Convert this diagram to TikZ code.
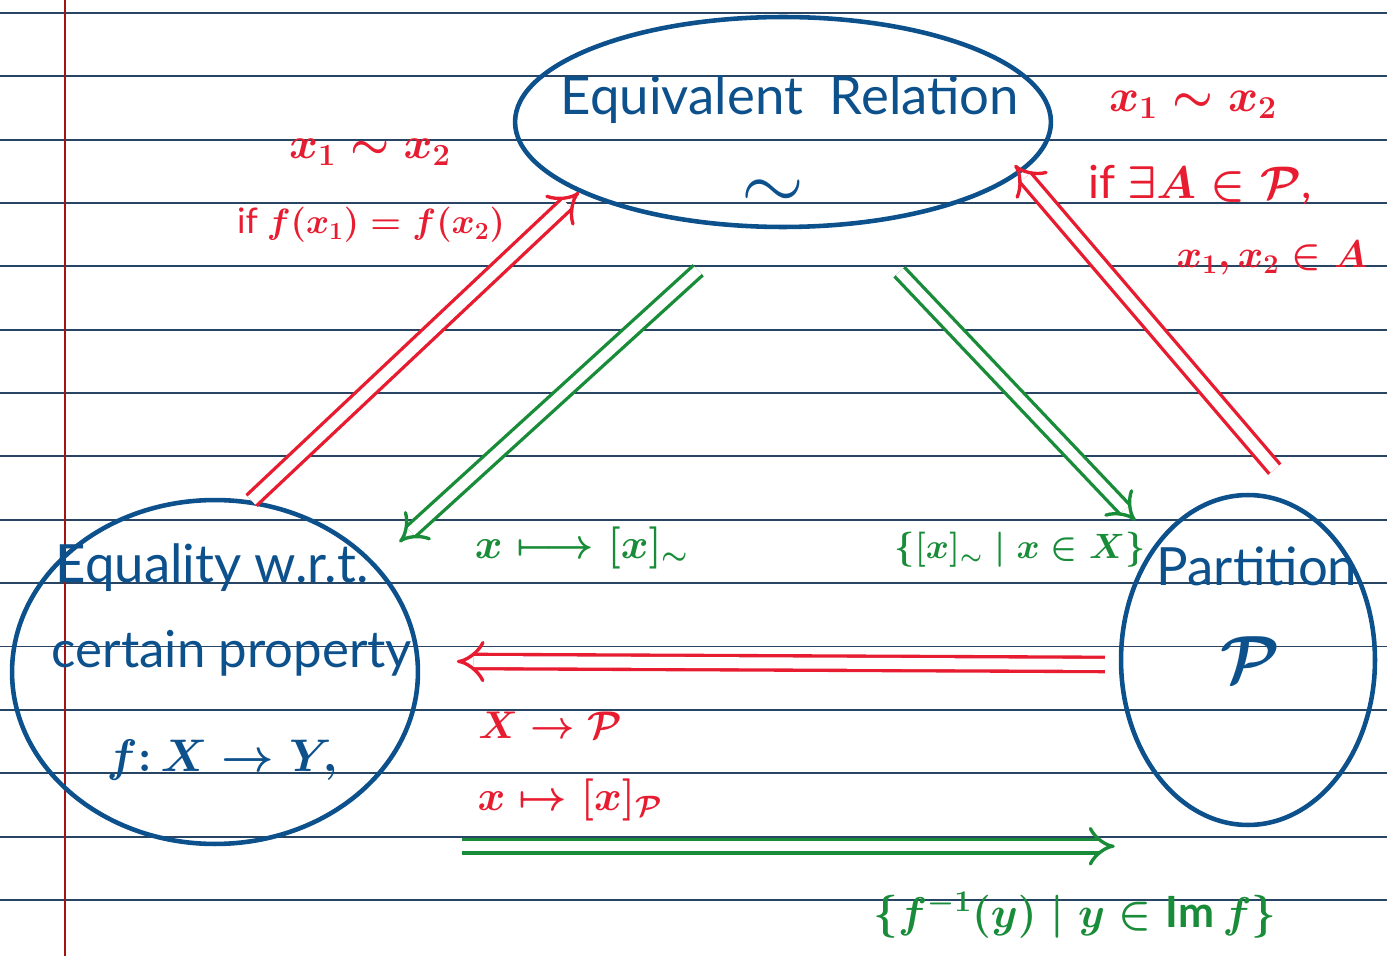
\RequirePackage{fix-cm}
\documentclass[tikz,border=0pt]{standalone}
\usepackage{fontspec}
\setmainfont{Lato}
\usetikzlibrary{shapes.geometric,arrows.meta}
\definecolor{inkblue}{RGB}{12,80,140}
\definecolor{inkred}{RGB}{232,28,48}
\definecolor{inkgreen}{RGB}{24,140,56}
\definecolor{ruling}{RGB}{40,70,100}
\definecolor{marginred}{RGB}{160,20,20}
\tikzset{
  bubble/.style={ellipse,draw=inkblue,line width=2.6pt,inner sep=0pt},
  bubbletext/.style={text=inkblue,font=\fontsize{30}{36}\selectfont\boldmath},
  redarrow/.style={draw=inkred,double,double distance=0.22cm,line width=1.9pt,-{Implies}},
  greenarrow/.style={draw=inkgreen,double,double distance=0.2cm,line width=1.9pt,-{Implies}},
  redlabel/.style={text=inkred,font=\fontsize{24}{28}\selectfont\boldmath},
  greenlabel/.style={text=inkgreen,font=\fontsize{24}{28}\selectfont\boldmath}
}

\begin{document}
\begin{tikzpicture}[x=0.02cm,y=-0.02cm]
  \useasboundingbox (0,0) rectangle (1387,956);
  \foreach \i in {0,...,14}
    \draw[ruling,line width=1.1pt] (0,13+63.35*\i) -- (1387,13+63.35*\i);
  \draw[marginred,line width=1pt] (65,0) -- (65,956);

  \node[bubble,minimum width=10.72cm,minimum height=4.2cm] (rel) at (783,122) {};
  \node[bubble,minimum width=8.12cm,minimum height=6.88cm] (eq) at (215,672) {};
  \node[bubble,minimum width=5.08cm,minimum height=6.6cm] (part) at (1248,660) {};

  \node[bubbletext] (reltitle) at (790,100) {Equivalent\ \ Relation};
  \node[bubbletext,font=\fontsize{46}{50}\selectfont] (relsym) at (773,195) {$\sim$};
  \node[bubbletext] (eq1) at (212,568) {Equality w.r.t.};
  \node[bubbletext,font=\fontsize{29}{34}\selectfont] (eq2) at (232,653) {certain property};
  \node[bubbletext,font=\fontsize{26}{30}\selectfont\boldmath] (eq3) at (222,760) {$f\colon X\to Y,$};
  \node[bubbletext] (part1) at (1257,566) {Partition};
  \node[bubbletext,font=\fontsize{38}{44}\selectfont\boldmath] (part2) at (1250,660) {$\mathcal{P}$};

  \draw[redarrow] (eq.78) -- (rel.199);
  \draw[greenarrow,shorten <=1.25cm,shorten >=0.64cm] (rel.250) -- (eq.34);
  \draw[greenarrow,shorten <=1.28cm,shorten >=0.6cm] (rel.305) -- (part.128);
  \draw[redarrow,shorten <=1.3cm,shorten >=-0.2cm] (part.64) -- (rel.348);
  \draw[redarrow,shorten <=0.28cm,shorten >=0.74cm] (part.182) -- (eq.3);
  \draw[greenarrow,shorten <=0.84cm,shorten >=0.08cm] (eq.east |- eq.south) -- (part.west |- eq.south);

  \node[redlabel,font=\fontsize{25}{30}\selectfont\boldmath] (eqcond1) at (370,152) {$x_1\sim x_2$};
  \node[redlabel,font=\fontsize{20}{24}\selectfont\boldmath] (eqcond2) at (371,225) {if $f(x_1)=f(x_2)$};
  \node[redlabel,font=\fontsize{26}{30}\selectfont\boldmath] (partcond1) at (1193,105) {$x_1\sim x_2$};
  \node[redlabel,font=\fontsize{26}{30}\selectfont\boldmath] (partcond2) at (1200,185) {if $\exists A\in\mathcal{P}$,};
  \node[redlabel,font=\fontsize{22}{26}\selectfont\boldmath] (partcond3) at (1272,258) {$x_1,x_2\in A$};
  \node[redlabel,font=\fontsize{22}{26}\selectfont\boldmath] (tomap1) at (550,725) {$X\to\mathcal{P}$};
  \node[redlabel] (tomap2) at (570,800) {$x\mapsto[x]_{\mathcal{P}}$};
  \node[greenlabel] (classmap) at (582,548) {$x\longmapsto[x]_{\sim}$};
  \node[greenlabel,font=\fontsize{20}{24}\selectfont\boldmath] (classset) at (1020,550) {$\{[x]_{\sim}\mid x\in X\}$};
  \node[greenlabel,font=\fontsize{24.5}{29}\selectfont\boldmath] (fibreset) at (1075,915) {$\{f^{-1}(y)\mid y\in\mathrm{Im}\,f\}$};
\end{tikzpicture}
\end{document}
